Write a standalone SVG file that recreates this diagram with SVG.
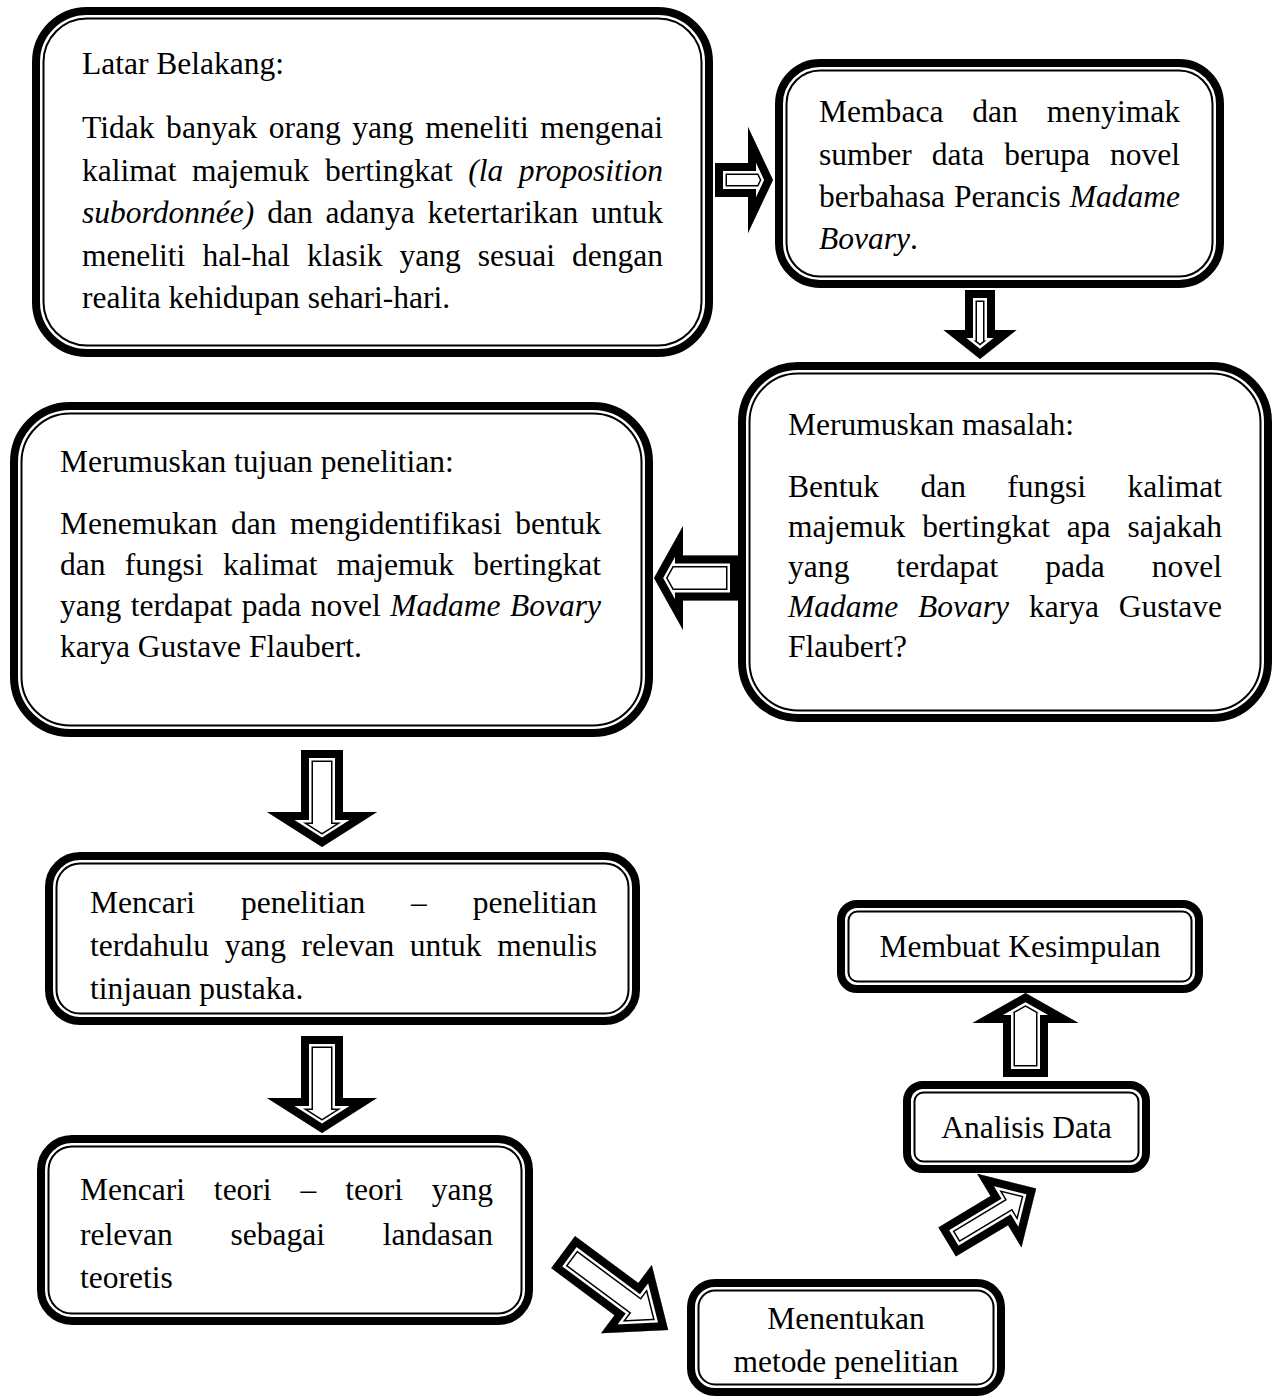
<svg xmlns="http://www.w3.org/2000/svg" xmlns:xlink="http://www.w3.org/1999/xlink" width="1277" height="1400" viewBox="0 0 1277 1400">
<style>
.o{fill:#fff;stroke:#000;stroke-width:8}
.i{fill:none;stroke:#000;stroke-width:2}
.t{font-family:"Liberation Serif","Times New Roman",serif;font-size:31.5px;fill:#000}
.it{font-style:italic}
.m{text-anchor:middle}
.af{fill:#fff;stroke:none}
.s1{fill:none;stroke:#000;stroke-width:24;stroke-miterlimit:10}
.s2{fill:none;stroke:#fff;stroke-width:21;stroke-miterlimit:10}
.s3{fill:none;stroke:#000;stroke-width:16;stroke-miterlimit:10}
</style>
<defs>
<path id="p1" d="M0,-17 L33,-17 L33,-53 L58,0 L33,53 L33,17 L0,17 Z"/>
<path id="p2" d="M0,-15 L40,-15 L40,-36.5 L69,0 L40,36.5 L40,15 L0,15 Z"/>
<path id="p3" d="M0,-22.5 L55,-22.5 L55,-52 L84,0 L55,52 L55,22.5 L0,22.5 Z"/>
<path id="p4" d="M0,-21 L62,-21 L62,-55 L97,0 L62,55 L62,21 L0,21 Z"/>
<path id="p6" d="M0,-20 L79,-20 L79,-42.5 L131,0 L79,42.5 L79,20 L0,20 Z"/>
<path id="p7" d="M0,-17 L61,-17 L61,-43 L104,0 L61,43 L61,17 L0,17 Z"/>
<path id="p8" d="M0,-22.5 L54,-22.5 L54,-53 L84,0 L54,53 L54,22.5 L0,22.5 Z"/>
<clipPath id="c1"><use xlink:href="#p1"/></clipPath>
<clipPath id="c2"><use xlink:href="#p2"/></clipPath>
<clipPath id="c3"><use xlink:href="#p3"/></clipPath>
<clipPath id="c4"><use xlink:href="#p4"/></clipPath>
<clipPath id="c6"><use xlink:href="#p6"/></clipPath>
<clipPath id="c7"><use xlink:href="#p7"/></clipPath>
<clipPath id="c8"><use xlink:href="#p8"/></clipPath>
</defs>

<g id="connectors">
 <g transform="translate(715,180)"><g clip-path="url(#c1)"><use xlink:href="#p1" class="af"/><use xlink:href="#p1" class="s1"/><use xlink:href="#p1" class="s2"/><use xlink:href="#p1" class="s3"/></g></g>
 <g transform="translate(980,290) rotate(90)"><g clip-path="url(#c2)"><use xlink:href="#p2" class="af"/><use xlink:href="#p2" class="s1"/><use xlink:href="#p2" class="s2"/><use xlink:href="#p2" class="s3"/></g></g>
 <g transform="translate(738,578) rotate(180)"><g clip-path="url(#c3)"><use xlink:href="#p3" class="af"/><use xlink:href="#p3" class="s1"/><use xlink:href="#p3" class="s2"/><use xlink:href="#p3" class="s3"/></g></g>
 <g transform="translate(322,750) rotate(90)"><g clip-path="url(#c4)"><use xlink:href="#p4" class="af"/><use xlink:href="#p4" class="s1"/><use xlink:href="#p4" class="s2"/><use xlink:href="#p4" class="s3"/></g></g>
 <g transform="translate(322,1036) rotate(90)"><g clip-path="url(#c4)"><use xlink:href="#p4" class="af"/><use xlink:href="#p4" class="s1"/><use xlink:href="#p4" class="s2"/><use xlink:href="#p4" class="s3"/></g></g>
 <g transform="translate(563,1252) rotate(36.6)"><g clip-path="url(#c6)"><use xlink:href="#p6" class="af"/><use xlink:href="#p6" class="s1"/><use xlink:href="#p6" class="s2"/><use xlink:href="#p6" class="s3"/></g></g>
 <g transform="translate(947,1242) rotate(-31)"><g clip-path="url(#c7)"><use xlink:href="#p7" class="af"/><use xlink:href="#p7" class="s1"/><use xlink:href="#p7" class="s2"/><use xlink:href="#p7" class="s3"/></g></g>
 <g transform="translate(1025.5,1077) rotate(-90)"><g clip-path="url(#c8)"><use xlink:href="#p8" class="af"/><use xlink:href="#p8" class="s1"/><use xlink:href="#p8" class="s2"/><use xlink:href="#p8" class="s3"/></g></g>
</g>

<g id="latar-belakang">
 <rect class="o" x="36" y="11" width="673" height="342" rx="51"/>
 <rect class="i" x="43.5" y="18.5" width="658" height="327" rx="43.5"/>
 <text class="t" x="82" y="74">Latar Belakang:</text>
 <text class="t" x="82" y="138" word-spacing="3.7" textLength="581" lengthAdjust="spacing">Tidak banyak orang yang meneliti mengenai</text>
 <text class="t" x="82" y="180.5" word-spacing="7.7" textLength="581" lengthAdjust="spacing">kalimat majemuk bertingkat <tspan class="it">(la proposition</tspan></text>
 <text class="t" x="82" y="223" word-spacing="4.9" textLength="581" lengthAdjust="spacing"><tspan class="it">subordonnée)</tspan> dan adanya ketertarikan untuk</text>
 <text class="t" x="82" y="265.5" word-spacing="9.2" textLength="581" lengthAdjust="spacing">meneliti hal-hal klasik yang sesuai dengan</text>
 <text class="t" x="82" y="308">realita kehidupan sehari-hari.</text>
</g>

<g id="membaca">
 <rect class="o" x="779" y="63" width="441" height="221" rx="41"/>
 <rect class="i" x="786.5" y="70.5" width="426" height="206" rx="33.5"/>
 <text class="t" x="819" y="122" word-spacing="21" textLength="361" lengthAdjust="spacing">Membaca dan menyimak</text>
 <text class="t" x="819" y="165" word-spacing="12" textLength="361" lengthAdjust="spacing">sumber data berupa novel</text>
 <text class="t" x="819" y="207" word-spacing="1" textLength="361" lengthAdjust="spacing">berbahasa Perancis <tspan class="it">Madame</tspan></text>
 <text class="t" x="819" y="249"><tspan class="it">Bovary</tspan>.</text>
</g>

<g id="rumusan-masalah">
 <rect class="o" x="742" y="366" width="526" height="352" rx="56"/>
 <rect class="i" x="749.5" y="373.5" width="511" height="337" rx="48.5"/>
 <text class="t" x="788" y="435">Merumuskan masalah:</text>
 <text class="t" x="788" y="497" word-spacing="33.6" textLength="434" lengthAdjust="spacing">Bentuk dan fungsi kalimat</text>
 <text class="t" x="788" y="537" word-spacing="9" textLength="434" lengthAdjust="spacing">majemuk bertingkat apa sajakah</text>
 <text class="t" x="788" y="577" word-spacing="39" textLength="434" lengthAdjust="spacing">yang terdapat pada novel</text>
 <text class="t" x="788" y="617" word-spacing="12" textLength="434" lengthAdjust="spacing"><tspan class="it">Madame Bovary</tspan> karya Gustave</text>
 <text class="t" x="788" y="657">Flaubert?</text>
</g>

<g id="tujuan-penelitian">
 <rect class="o" x="14" y="406" width="635" height="327" rx="56"/>
 <rect class="i" x="21.5" y="413.5" width="620" height="312" rx="48.5"/>
 <text class="t" x="60" y="472">Merumuskan tujuan penelitian:</text>
 <text class="t" x="60" y="534" word-spacing="5.7" textLength="541" lengthAdjust="spacing">Menemukan dan mengidentifikasi bentuk</text>
 <text class="t" x="60" y="575" word-spacing="11.5" textLength="541" lengthAdjust="spacing">dan fungsi kalimat majemuk bertingkat</text>
 <text class="t" x="60" y="616" word-spacing="1.5" textLength="541" lengthAdjust="spacing">yang terdapat pada novel <tspan class="it">Madame Bovary</tspan></text>
 <text class="t" x="60" y="657">karya Gustave Flaubert.</text>
</g>

<g id="tinjauan-pustaka">
 <rect class="o" x="49" y="856" width="587" height="165" rx="31"/>
 <rect class="i" x="56.5" y="863.5" width="572" height="150" rx="23.5"/>
 <text class="t" x="90" y="913" word-spacing="38" textLength="507" lengthAdjust="spacing">Mencari penelitian – penelitian</text>
 <text class="t" x="90" y="956" word-spacing="7.7" textLength="507" lengthAdjust="spacing">terdahulu yang relevan untuk menulis</text>
 <text class="t" x="90" y="999">tinjauan pustaka.</text>
</g>

<g id="landasan-teori">
 <rect class="o" x="41" y="1139" width="488" height="182" rx="31"/>
 <rect class="i" x="48.5" y="1146.5" width="473" height="167" rx="23.5"/>
 <text class="t" x="80" y="1200" word-spacing="21" textLength="413" lengthAdjust="spacing">Mencari teori – teori yang</text>
 <text class="t" x="80" y="1245" word-spacing="50" textLength="413" lengthAdjust="spacing">relevan sebagai landasan</text>
 <text class="t" x="80" y="1288">teoretis</text>
</g>

<g id="metode-penelitian">
 <rect class="o" x="691" y="1283" width="310" height="109" rx="24"/>
 <rect class="i" x="698.5" y="1290.5" width="295" height="94" rx="16.5"/>
 <text class="t m" x="846" y="1329">Menentukan</text>
 <text class="t m" x="846" y="1372">metode penelitian</text>
</g>

<g id="analisis-data">
 <rect class="o" x="907" y="1085" width="239" height="84" rx="16"/>
 <rect class="i" x="914.5" y="1092.5" width="224" height="69" rx="9"/>
 <text class="t m" x="1026.5" y="1138">Analisis Data</text>
</g>

<g id="kesimpulan">
 <rect class="o" x="841" y="904" width="358" height="85" rx="16"/>
 <rect class="i" x="848.5" y="911.5" width="343" height="70" rx="9"/>
 <text class="t m" x="1020" y="957">Membuat Kesimpulan</text>
</g>
</svg>
